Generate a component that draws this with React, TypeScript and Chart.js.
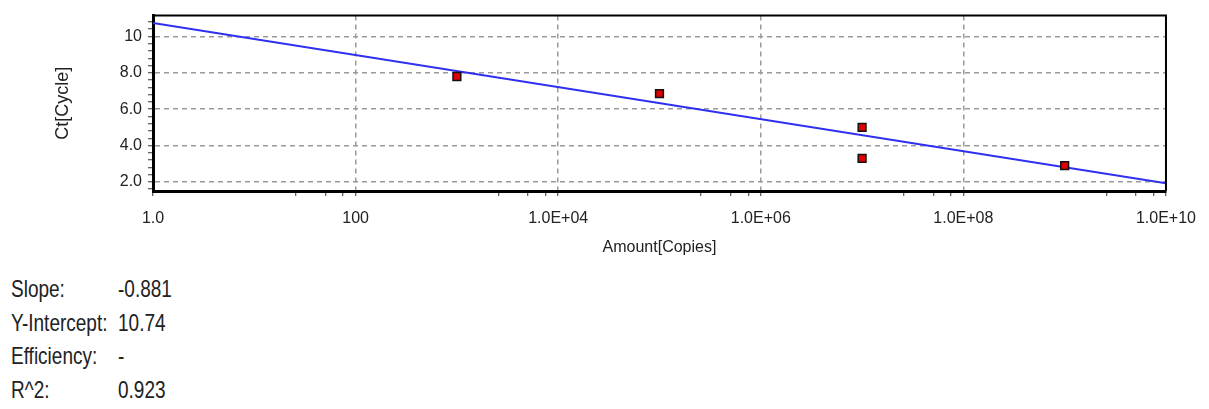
import React, { useEffect, useRef } from "react";
import { Chart, registerables } from "chart.js";

Chart.register(...registerables);

// ---- data ----
const amountCopies = [1e3, 1e5, 1e7, 1e7, 1e9];
const ctValues = [7.8, 6.86, 5.0, 3.3, 2.9];

const fitAmount = [1, 1e10];
const fitCt = [10.74, 1.93];

const xMajorTicks = [1, 100, 1e4, 1e6, 1e8, 1e10];
const xTickLabels = ["1.0", "100", "1.0E+04", "1.0E+06", "1.0E+08", "1.0E+10"];
const yMajorTicks = [2, 4, 6, 8, 10];
const yTickLabels = ["2.0", "4.0", "6.0", "8.0", "10"];

const statNames = ["Slope:", "Y-Intercept:", "Efficiency:", "R^2:"];
const statValues = ["-0.881", "10.74", "-", "0.923"];

const FONT = "'Liberation Sans', Arial, sans-serif";

function xAllTicks(): number[] {
  const out: number[] = [];
  for (let i = 0; i < xMajorTicks.length; i++) {
    const a = xMajorTicks[i];
    out.push(a);
    if (i < xMajorTicks.length - 1) {
      const b = xMajorTicks[i + 1];
      for (let k = 1; k < 4; k++) out.push(a + (k * (b - a)) / 4);
    }
  }
  return out;
}

function yAllTicks(min: number, max: number): number[] {
  const out: number[] = [];
  for (let i = 4; i <= 28; i++) {
    const v = Math.round(i * 0.4 * 10) / 10;
    if (v >= min && v <= max) out.push(v);
  }
  return out;
}

const frame = {
  id: "frame",
  afterDraw(chart: any) {
    const { ctx, chartArea } = chart;
    ctx.save();
    ctx.setLineDash([]);
    ctx.strokeStyle = "#000";
    ctx.lineWidth = 2;
    ctx.beginPath();
    ctx.moveTo(chartArea.left, chartArea.top);
    ctx.lineTo(chartArea.right, chartArea.top);
    ctx.lineTo(chartArea.right, chartArea.bottom);
    ctx.stroke();
    ctx.restore();
  },
};

export default function App() {
  const ref = useRef<HTMLCanvasElement | null>(null);

  useEffect(() => {
    if (!ref.current) return;
    const yMin = 1.5;
    const yMax = 11.15;
    const chart = new Chart(ref.current, {
      type: "scatter",
      data: {
        datasets: [
          {
            type: "line",
            data: fitAmount.map((x, i) => ({ x, y: fitCt[i] })),
            borderColor: "#2f2ff0",
            borderWidth: 2,
            pointRadius: 0,
            fill: false,
            order: 2,
          } as any,
          {
            data: amountCopies.map((x, i) => ({ x, y: ctValues[i] })),
            pointStyle: "rect",
            pointRadius: 5.5,
            backgroundColor: "#e00000",
            borderColor: "#111",
            borderWidth: 1.5,
            order: 1,
          },
        ],
      },
      options: {
        responsive: false,
        animation: false,
        layout: { padding: { top: 13, right: 42, left: 0, bottom: 0 } },
        plugins: { legend: { display: false }, tooltip: { enabled: false } },
        scales: {
          x: {
            type: "logarithmic",
            min: 1,
            max: 1e10,
            afterBuildTicks: (s: any) => {
              s.ticks = xAllTicks().map((v) => ({ value: v }));
            },
            afterFit: (s: any) => {
              s.height = 69;
            },
            ticks: {
              autoSkip: false,
              maxRotation: 0,
              padding: 13,
              color: "#222",
              font: { family: FONT, size: 16 },
              callback: (v: any) => {
                const i = xMajorTicks.indexOf(Number(v));
                return i >= 0 ? xTickLabels[i] : "";
              },
            },
            grid: {
              color: (c: any) =>
                c.tick && xMajorTicks.indexOf(c.tick.value) > 0 && c.tick.value < 1e10
                  ? "#9a9a9a"
                  : "rgba(0,0,0,0)",
              lineWidth: 1.5,
              tickColor: "#333",
              tickLength: 5,
              tickWidth: 1,
              tickBorderDash: [],
            } as any,
            border: { display: true, color: "#000", width: 3, dash: [5, 4] },
            title: {
              display: true,
              text: "Amount[Copies]",
              color: "#222",
              font: { family: FONT, size: 16 },
              padding: { top: 0, bottom: 3 },
            },
          },
          y: {
            type: "linear",
            min: yMin,
            max: yMax,
            afterBuildTicks: (s: any) => {
              s.ticks = yAllTicks(yMin, yMax).map((v) => ({ value: v }));
            },
            afterFit: (s: any) => {
              s.width = 153;
            },
            ticks: {
              autoSkip: false,
              padding: 6,
              color: "#222",
              font: { family: FONT, size: 16 },
              callback: (v: any) => {
                const i = yMajorTicks.indexOf(Math.round(Number(v) * 10) / 10);
                return i >= 0 ? yTickLabels[i] : "";
              },
            },
            grid: {
              color: (c: any) =>
                c.tick && yMajorTicks.indexOf(Math.round(c.tick.value * 10) / 10) >= 0
                  ? "#9a9a9a"
                  : "rgba(0,0,0,0)",
              lineWidth: 1.5,
              tickColor: "#333",
              tickLength: 5,
              tickWidth: 1,
              tickBorderDash: [],
            } as any,
            border: { display: true, color: "#000", width: 3, dash: [5, 4] },
            title: {
              display: true,
              text: "Ct[Cycle]",
              color: "#222",
              font: { family: FONT, size: 18 },
              padding: { top: 52, bottom: 0 },
            },
          },
        },
      },
      plugins: [frame],
    });
    return () => chart.destroy();
  }, []);

  const textStyle: React.CSSProperties = {
    position: "absolute",
    fontSize: 19,
    lineHeight: "19px",
    whiteSpace: "nowrap",
    transform: "scaleY(1.25)",
    transformOrigin: "0 80%",
  };

  return (
    <div
      style={{
        position: "fixed",
        left: 0,
        top: 0,
        width: 1209,
        height: 409,
        background: "#fff",
        fontFamily: FONT,
        color: "#222",
      }}
    >
      <canvas ref={ref} width={1209} height={260} style={{ display: "block" }} />
      {statNames.map((n, i) => (
        <React.Fragment key={n}>
          <div style={{ ...textStyle, left: 11, top: 281 + i * 33.5 }}>{n}</div>
          <div style={{ ...textStyle, left: 118, top: 281 + i * 33.5 }}>{statValues[i]}</div>
        </React.Fragment>
      ))}
    </div>
  );
}
